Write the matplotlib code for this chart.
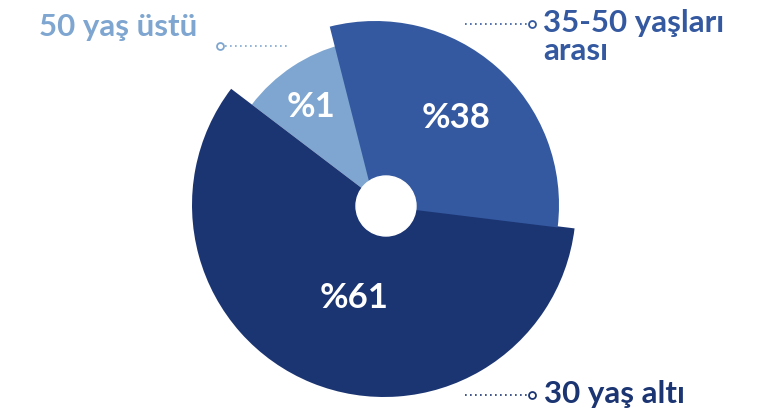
import numpy as np
import matplotlib
matplotlib.use('Agg')
import matplotlib.pyplot as plt
from matplotlib.patches import Circle

# slices, counter-clockwise from the right
groups = ['35-50 yaşları\narası', '50 yaş üstü', '30 yaş altı']
pct_labels = ['%38', '%1', '%61']
shares = [30.9, 10.7, 58.4]          # angular share
radii = [184, 166, 192]              # each slice has its own radius
colors = ['#3459a0', '#7fa6d0', '#1b3573']

plt.rcParams['font.family'] = ['Lato', 'DejaVu Sans']

fig = plt.figure(figsize=(7.8, 4.11), dpi=100)
ax = fig.add_axes([0, 0, 1, 1])

H = 411  # pixel rows, y flipped below
cx, cy = 384, 206
wedges, _ = ax.pie(shares, colors=colors, startangle=-7, counterclock=True,
                   center=(cx, cy), radius=1, frame=True)
centers = [(375, 206), (cx, cy), (cx, cy)]
for w, r, c in zip(wedges, radii, centers):
    w.set_radius(r)
    w.set_center(c)
    w.set_linewidth(0)
wedges[0].set_zorder(3)

# hole
ax.add_patch(Circle((386, 205), 30, color='white', zorder=5))

# percent labels
pct_pos = [(456, 118), (311, 107), (354, 298)]
for t, (x, y) in zip(pct_labels, pct_pos):
    ax.text(x, H - y, t, color='white', fontsize=25, fontweight='bold',
            ha='center', va='center', zorder=6)

# group labels with dotted leaders
def leader(x0, x1, y, col, end):
    ax.plot([x0, x1], [y, y], color=col, lw=1.2, ls=(0, (1, 2)), zorder=6)
    ex = x1 if end == 'right' else x0
    ax.plot([ex], [y], marker='o', ms=5, mfc='white', mec=col, mew=1.3, zorder=7)

fs = 22.5
leader(220, 288, H - 46, colors[1], 'left')
ax.text(39, H - 36, groups[1], color=colors[1], fontsize=fs, fontweight='bold',
        ha='left', va='baseline')

leader(465, 532, H - 24, colors[0], 'right')
ax.text(543, H - 32, groups[0].split('\n')[0], color=colors[0], fontsize=fs,
        fontweight='bold', ha='left', va='baseline')
ax.text(543, H - 60, groups[0].split('\n')[1], color=colors[0], fontsize=fs,
        fontweight='bold', ha='left', va='baseline')

leader(465, 532, H - 395, colors[2], 'right')
ax.text(544, H - 403, groups[2], color=colors[2], fontsize=fs, fontweight='bold',
        ha='left', va='baseline')

ax.set_xlim(0, 780)
ax.set_ylim(0, H)
ax.set_aspect('equal')
ax.axis('off')

fig.savefig('out.png', dpi=100)
